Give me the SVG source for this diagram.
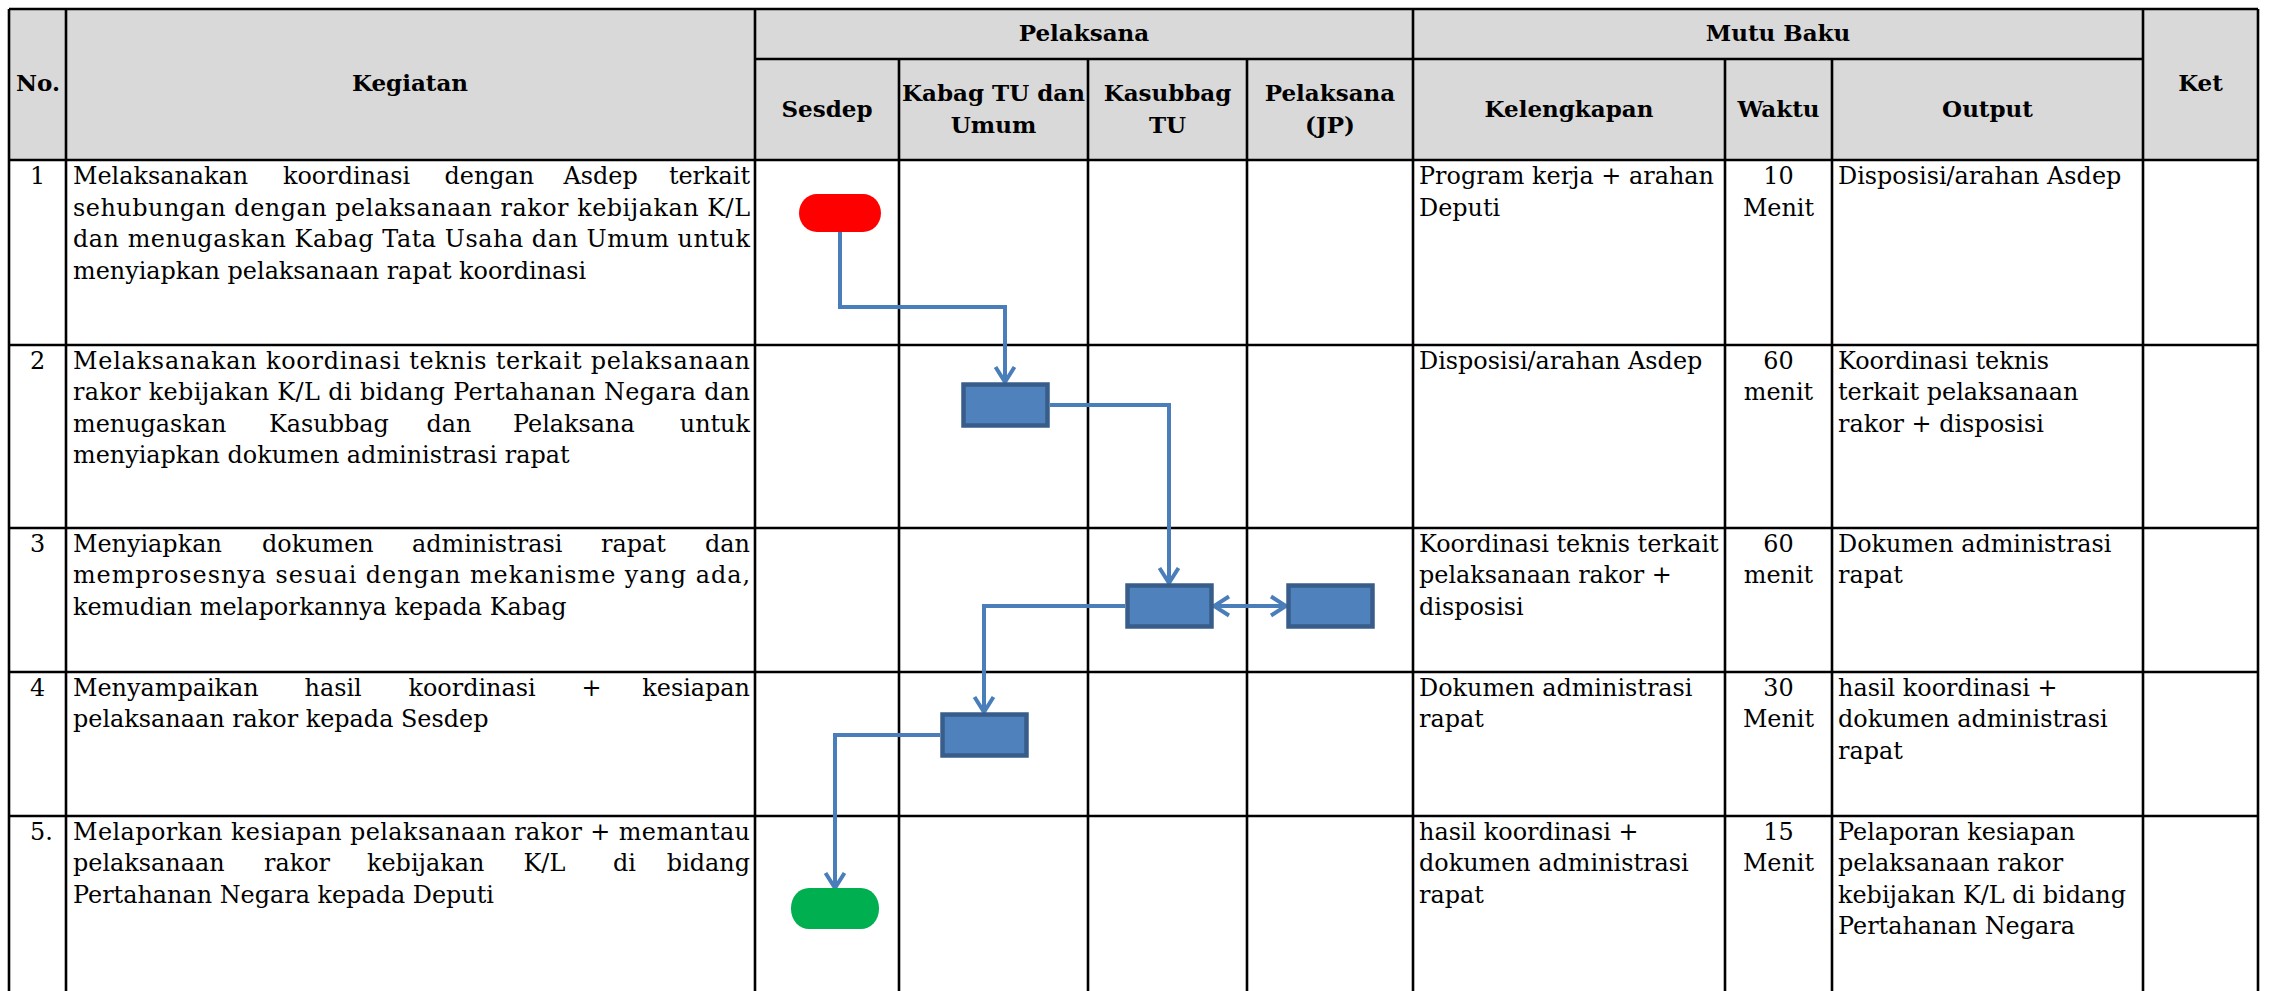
<svg xmlns="http://www.w3.org/2000/svg" width="2269" height="991" viewBox="0 0 2269 991">
<style>
.grid{stroke:#000;stroke-width:2.6;fill:none}
.hdr{font-family:"DejaVu Serif","Liberation Serif",serif;font-weight:bold;font-size:23px;fill:#000;text-anchor:middle}
.t{font-family:"DejaVu Serif","Liberation Serif",serif;font-size:23.9px;fill:#000}
.c{text-anchor:middle}
.e{text-anchor:end}
.box{fill:#4F81BD;stroke:#385D8A;stroke-width:4.5}
.conn{fill:none;stroke:#4A7EBB;stroke-width:4}
</style>
<defs>
<marker id="arr" markerUnits="userSpaceOnUse" viewBox="-20 -13 22 26" refX="0" refY="0" markerWidth="22" markerHeight="26" orient="auto-start-reverse">
<path d="M-15,-9.5 L0,0 L-15,9.5" fill="none" stroke="#4A7EBB" stroke-width="4" stroke-linejoin="miter"/>
</marker>
</defs>
<rect width="2269" height="991" fill="#fff"/>
<g id="table">
<rect x="9" y="9" width="2249" height="151" fill="#D9D9D9"/>
<g class="grid">
<path d="M9 9H2258M755 59H2143M9 160H2258M9 345H2258M9 528H2258M9 672H2258M9 816H2258"/>
<path d="M9 9V991M66 9V991M755 9V991M1413 9V991M2143 9V991M2258 9V991"/>
<path d="M899 59V991M1088 59V991M1247 59V991M1725 59V991M1832 59V991"/>
</g>
<g id="header">
<text class="hdr" x="38" y="91">No.</text>
<text class="hdr" x="410" y="91">Kegiatan</text>
<text class="hdr" x="1084" y="41">Pelaksana</text>
<text class="hdr" x="827" y="117">Sesdep</text>
<text class="hdr" x="993.5" y="101">Kabag TU dan</text>
<text class="hdr" x="993.5" y="133">Umum</text>
<text class="hdr" x="1167.5" y="101">Kasubbag</text>
<text class="hdr" x="1167.5" y="133">TU</text>
<text class="hdr" x="1330" y="101">Pelaksana</text>
<text class="hdr" x="1330" y="133">(JP)</text>
<text class="hdr" x="1778" y="41">Mutu Baku</text>
<text class="hdr" x="1569" y="117">Kelengkapan</text>
<text class="hdr" x="1778.5" y="117">Waktu</text>
<text class="hdr" x="1987.5" y="117">Output</text>
<text class="hdr" x="2200.5" y="91">Ket</text>
</g>
<g id="row1">
<text class="t" x="30" y="184">1</text>
<text class="t" x="73" y="184">Melaksanakan</text>
<text class="t" x="283" y="184">koordinasi</text>
<text class="t" x="444.5" y="184">dengan</text>
<text class="t" x="563.5" y="184">Asdep</text>
<text class="t e" x="750" y="184">terkait</text>
<text class="t" x="73" y="215.5" textLength="677" lengthAdjust="spacing">sehubungan dengan pelaksanaan rakor kebijakan K/L</text>
<text class="t" x="73" y="247" textLength="677" lengthAdjust="spacing">dan menugaskan Kabag Tata Usaha dan Umum untuk</text>
<text class="t" x="73" y="278.5">menyiapkan pelaksanaan rapat koordinasi</text>
<text class="t" x="1419" y="184">Program kerja + arahan</text>
<text class="t" x="1419" y="215.5">Deputi</text>
<text class="t c" x="1778.5" y="184">10</text>
<text class="t c" x="1778.5" y="215.5">Menit</text>
<text class="t" x="1838" y="184">Disposisi/arahan Asdep</text>
</g>
<g id="row2">
<text class="t" x="30" y="368.5">2</text>
<text class="t" x="73" y="368.5" textLength="677" lengthAdjust="spacing">Melaksanakan koordinasi teknis terkait pelaksanaan</text>
<text class="t" x="73" y="400" textLength="677" lengthAdjust="spacing">rakor kebijakan K/L di bidang Pertahanan Negara dan</text>
<text class="t" x="73" y="431.5">menugaskan</text>
<text class="t" x="269" y="431.5">Kasubbag</text>
<text class="t" x="426.5" y="431.5">dan</text>
<text class="t" x="513" y="431.5">Pelaksana</text>
<text class="t e" x="750" y="431.5">untuk</text>
<text class="t" x="73" y="463">menyiapkan dokumen administrasi rapat</text>
<text class="t" x="1419" y="368.5">Disposisi/arahan Asdep</text>
<text class="t c" x="1778.5" y="368.5">60</text>
<text class="t c" x="1778.5" y="400">menit</text>
<text class="t" x="1838" y="368.5">Koordinasi teknis</text>
<text class="t" x="1838" y="400">terkait pelaksanaan</text>
<text class="t" x="1838" y="431.5">rakor + disposisi</text>
</g>
<g id="row3">
<text class="t" x="30" y="551.5">3</text>
<text class="t" x="73" y="551.5">Menyiapkan</text>
<text class="t" x="262" y="551.5">dokumen</text>
<text class="t" x="412" y="551.5">administrasi</text>
<text class="t" x="601" y="551.5">rapat</text>
<text class="t e" x="750" y="551.5">dan</text>
<text class="t" x="73" y="583" textLength="677" lengthAdjust="spacing">memprosesnya sesuai dengan mekanisme yang ada,</text>
<text class="t" x="73" y="614.5">kemudian melaporkannya kepada Kabag</text>
<text class="t" x="1419" y="551.5">Koordinasi teknis terkait</text>
<text class="t" x="1419" y="583">pelaksanaan rakor +</text>
<text class="t" x="1419" y="614.5">disposisi</text>
<text class="t c" x="1778.5" y="551.5">60</text>
<text class="t c" x="1778.5" y="583">menit</text>
<text class="t" x="1838" y="551.5">Dokumen administrasi</text>
<text class="t" x="1838" y="583">rapat</text>
</g>
<g id="row4">
<text class="t" x="30" y="695.5">4</text>
<text class="t" x="73" y="695.5">Menyampaikan</text>
<text class="t" x="304.5" y="695.5">hasil</text>
<text class="t" x="408.5" y="695.5">koordinasi</text>
<text class="t" x="581.5" y="695.5">+</text>
<text class="t e" x="750" y="695.5">kesiapan</text>
<text class="t" x="73" y="727">pelaksanaan rakor kepada Sesdep</text>
<text class="t" x="1419" y="695.5">Dokumen administrasi</text>
<text class="t" x="1419" y="727">rapat</text>
<text class="t c" x="1778.5" y="695.5">30</text>
<text class="t c" x="1778.5" y="727">Menit</text>
<text class="t" x="1838" y="695.5">hasil koordinasi +</text>
<text class="t" x="1838" y="727">dokumen administrasi</text>
<text class="t" x="1838" y="758.5">rapat</text>
</g>
<g id="row5">
<text class="t" x="30" y="839.5">5.</text>
<text class="t" x="73" y="839.5" textLength="677" lengthAdjust="spacing">Melaporkan kesiapan pelaksanaan rakor + memantau</text>
<text class="t" x="73" y="871">pelaksanaan</text>
<text class="t" x="264" y="871">rakor</text>
<text class="t" x="367" y="871">kebijakan</text>
<text class="t" x="523.5" y="871">K/L</text>
<text class="t" x="613" y="871">di</text>
<text class="t e" x="750" y="871">bidang</text>
<text class="t" x="73" y="902.5">Pertahanan Negara kepada Deputi</text>
<text class="t" x="1419" y="839.5">hasil koordinasi +</text>
<text class="t" x="1419" y="871">dokumen administrasi</text>
<text class="t" x="1419" y="902.5">rapat</text>
<text class="t c" x="1778.5" y="839.5">15</text>
<text class="t c" x="1778.5" y="871">Menit</text>
<text class="t" x="1838" y="839.5">Pelaporan kesiapan</text>
<text class="t" x="1838" y="871">pelaksanaan rakor</text>
<text class="t" x="1838" y="902.5">kebijakan K/L di bidang</text>
<text class="t" x="1838" y="934">Pertahanan Negara</text>
</g>
</g>
<g id="connectors">
<path class="conn" d="M840 232V307H1005V382" marker-end="url(#arr)"/>
<path class="conn" d="M1050 405H1169V583" marker-end="url(#arr)"/>
<path class="conn" d="M1214 606H1286" marker-start="url(#arr)" marker-end="url(#arr)"/>
<path class="conn" d="M1125 606H984V712" marker-end="url(#arr)"/>
<path class="conn" d="M940 735H835V888" marker-end="url(#arr)"/>
</g>
<g id="node-start"><rect x="799" y="194" width="82" height="38" rx="18" ry="19" fill="#FF0000"/></g>
<g id="node-kabag-1"><rect class="box" x="963.5" y="384.5" width="84" height="41"/></g>
<g id="node-kasubbag"><rect class="box" x="1127.5" y="585.5" width="84" height="41"/></g>
<g id="node-pelaksana"><rect class="box" x="1288.5" y="585.5" width="84" height="41"/></g>
<g id="node-kabag-2"><rect class="box" x="942.5" y="714.5" width="84" height="41"/></g>
<g id="node-end"><rect x="791" y="888" width="88" height="41" rx="18" ry="20" fill="#00B050"/></g>
</svg>
